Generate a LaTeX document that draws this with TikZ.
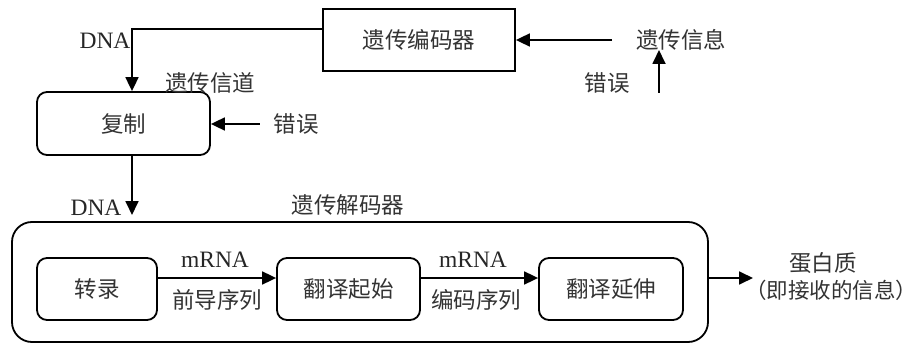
\documentclass[tikz,border=0pt]{standalone}
\usepackage{fontspec}
\setmainfont{Liberation Serif}
\newfontfamily\cjk{Noto Sans CJK SC}
\usetikzlibrary{arrows.meta}
\begin{document}
\begin{tikzpicture}[x=1pt,y=-1pt,
  line width=1.8pt,
  box/.style={draw,inner sep=0pt,font=\cjk\fontsize{22.5}{24}\selectfont,text=black!80},
  rbox/.style={box,rounded corners=10pt},
  lbl/.style={inner sep=0pt,font=\cjk\fontsize{22.5}{24}\selectfont,text=black!80},
  en/.style={inner sep=0pt,font=\fontsize{23.5}{25}\selectfont,text=black!85},
  arr/.style={-{Triangle[length=14pt,width=13pt]}}]
\useasboundingbox (0,0) rectangle (919,345);

% blocks
\node[box,minimum width=192pt,minimum height=62pt] (enc) at (419,40) {遗传编码器};
\node[rbox,minimum width=173pt,minimum height=63pt] (fz) at (123.5,123.5) {复制};
\node[draw,rounded corners=20pt,minimum width=696pt,minimum height=120pt,inner sep=0pt] (dec) at (360,282) {};
\node[rbox,minimum width=120pt,minimum height=62pt] (zl) at (97,289) {转录};
\node[rbox,minimum width=143pt,minimum height=62pt] (qs) at (348.5,289) {翻译起始};
\node[rbox,minimum width=144pt,minimum height=62pt] (ys) at (611,289) {翻译延伸};

% labels
\node[lbl] (info) at (681,40) {遗传信息};
\node[lbl] (err1) at (607,83) {错误};
\node[lbl] (err2) at (296,124) {错误};
\node[lbl] (chan) at (210,83) {遗传信道};
\node[lbl] (declbl) at (348,205) {遗传解码器};
\node[en] (dna1) at (105,41) {DNA};
\node[en] (dna2) at (96,208) {DNA};
\node[en] (m1) at (215,260) {mRNA};
\node[en] (m2) at (473,260) {mRNA};
\node[lbl] (lead) at (217,300) {前导序列};
\node[lbl] (code) at (476,300) {编码序列};
\node[lbl] (prot) at (823,263) {蛋白质};
\node[lbl,font=\cjk\fontsize{21.5}{24}\selectfont] (recv) at (831,290) {（即接收的信息）};

% helper coordinates
\coordinate (errsrc) at (659,93);
\coordinate (rowA) at (0,278);
\coordinate (dnarow) at (0,29);
\coordinate (dnacol) at (132,0);
\coordinate (decin) at (132,215);
\coordinate (outend) at (753,278);

% connectors
\draw[arr] (info.west) ++(-23pt,0) coordinate (infos) -- (enc.east |- infos);
\draw[arr] (errsrc) -- (659,50) coordinate (errtip);
\draw[arr] (enc.west |- dnarow) -| (fz.north -| dnacol);
\draw[arr] (err2.west) ++(-13pt,0) coordinate (err2s) -- (fz.east |- err2s);
\draw[arr] (fz.south -| dnacol) -- (decin);
\draw[arr] (zl.east |- rowA) -- (qs.west |- rowA);
\draw[arr] (qs.east |- rowA) -- (ys.west |- rowA);
\draw[arr] (dec.east |- rowA) -- (outend);
\end{tikzpicture}
\end{document}
